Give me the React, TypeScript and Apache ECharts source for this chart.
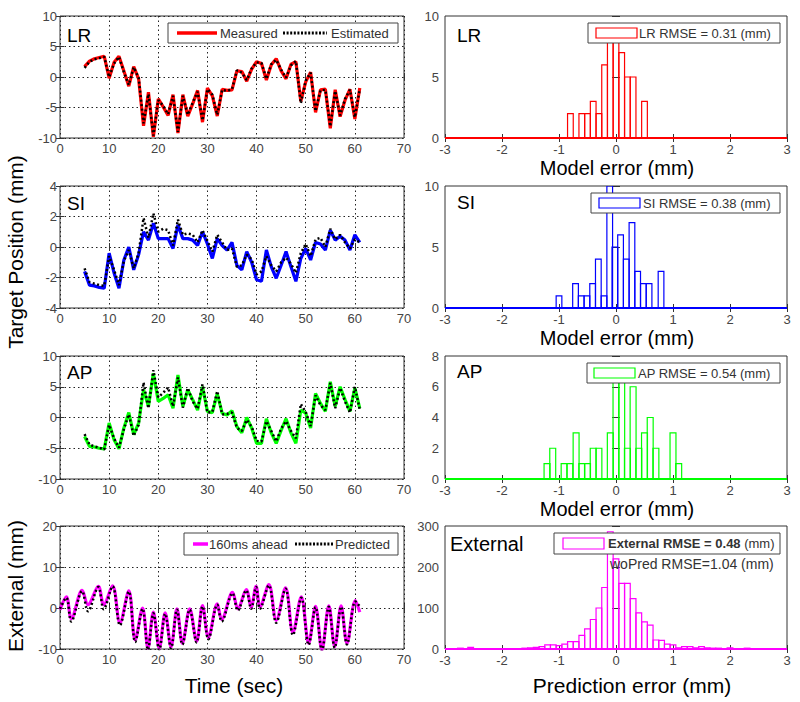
import React, { useEffect, useRef } from "react";
import * as echarts from "echarts";

// ---------- DATA ----------
const timeSec = [5, 6, 7, 8, 9, 10, 11, 12, 13, 14, 15, 16, 17, 18, 19, 20, 21, 22, 23, 24, 25, 26, 27, 28, 29, 30, 31, 32, 33, 34, 35, 36, 37, 38, 39, 40, 41, 42, 43, 44, 45, 46, 47, 48, 49, 50, 51, 52, 53, 54, 55, 56, 57, 58, 59, 60, 61];

const lrMeasured = [1.7, 2.6, 3.0, 3.2, 3.4, -0.2, 2.4, 3.4, 1.0, -1.5, 1.7, -0.3,
  -8.0, -2.5, -9.8, -3.6, -4.9, -6.3, -2.9, -9.2, -2.9, -6.4, -4.4, -2.2,
  -7.4, -1.8, -3.1, -6.4, -2.0, -2.2, -2.1, 1.0, 0.9, -0.7, 1.3, 2.5,
  2.2, -0.5, 2.0, 3.0, 1.0, -0.3, 2.1, 2.5, -4.0, -0.8, 0.8, -5.8,
  -2.1, -2.0, -8.4, -2.1, -6.5, -3.8, -2.0, -6.9, -1.8];
const lrEstimated = [1.5, 2.5, 2.9, 3.1, 3.3, 0.0, 2.2, 3.3, 0.8, -1.3, 1.6, -0.1,
  -7.6, -2.8, -9.6, -3.8, -4.7, -6.1, -3.1, -9.0, -3.1, -6.2, -4.2, -2.4,
  -7.1, -2.0, -2.9, -6.2, -2.1, -2.3, -2.0, 1.1, 0.7, -0.5, 1.4, 2.4,
  2.3, -0.3, 2.1, 2.8, 1.2, -0.1, 1.9, 2.6, -4.3, -0.6, 0.7, -5.6,
  -2.2, -2.1, -8.1, -2.3, -6.3, -3.6, -2.1, -6.6, -2.0];

const siMeasured = [-1.6, -2.5, -2.55, -2.65, -2.7, -0.4, -1.7, -2.7, -0.85, 0.0, -1.5, -0.5,
  1.0, 0.45, 1.55, 0.55, 0.55, 0.55, -0.1, 1.45, 0.55, 0.55, 0.45, 0.1,
  1.0, 0.2, -0.75, 0.55, 0.1, -0.2, 0.3, -1.2, -1.5, -0.3, -1.0, -2.15,
  -2.25, -0.2, -1.3, -2.05, -1.2, -0.3, -1.3, -2.25, -0.75, -0.1, -0.85, 0.3,
  0.2, -0.2, 1.1, 0.45, 0.7, 0.45, -0.2, 0.8, 0.3];
const siEstimated = [-1.4, -2.3, -2.4, -2.5, -2.55, -0.6, -1.5, -2.5, -0.9, -0.2, -1.4, -0.4,
  1.9, 0.6, 2.2, 1.0, 1.2, 1.1, 0.1, 1.8, 0.8, 0.9, 0.8, 0.3,
  1.1, 0.4, -0.3, 0.8, 0.3, -0.2, -0.1, -1.3, -1.2, -0.5, -0.8, -1.8,
  -1.6, -0.6, -1.2, -1.6, -1.0, -0.7, -1.1, -1.7, -0.4, 0.2, -0.6, 0.5,
  0.6, 0.0, 1.2, 0.5, 0.8, 0.3, -0.1, 0.5, 0.3];

const apMeasured = [-3.1, -4.7, -4.8, -5.0, -5.1, -0.9, -3.6, -5.1, -1.7, 0.8, -2.8, -0.9,
  4.5, 1.8, 7.2, 2.6, 3.1, 3.7, 1.5, 6.9, 1.8, 4.5, 2.9, 1.2,
  5.0, 1.0, 0.8, 3.9, 0.7, 0.4, 1.1, -1.5, -2.5, 0.0, -1.7, -4.2,
  -4.2, -0.2, -2.5, -4.2, -2.1, -0.2, -2.5, -4.2, 1.2, 0.7, -1.7, 3.9,
  2.3, 1.0, 5.8, 1.8, 5.0, 2.9, 1.0, 4.8, 1.5];
const apEstimated = [-2.7, -4.4, -4.7, -4.9, -5.2, -1.2, -3.4, -4.9, -1.9, 0.5, -3.0, -1.2,
  5.7, 1.5, 7.7, 3.3, 4.0, 4.9, 1.8, 6.5, 1.6, 4.8, 2.6, 1.4,
  5.4, 0.8, 0.9, 4.3, 0.5, 0.6, 0.8, -1.7, -2.2, -0.4, -1.5, -3.8,
  -3.9, -0.6, -2.2, -3.9, -1.8, -0.6, -2.2, -3.4, 2.2, 0.9, -1.4, 3.6,
  2.0, 1.2, 5.6, 1.5, 4.8, 2.6, 0.8, 5.0, 1.3];

const extTime = [0, 1.3, 2.3, 4.5, 5.7, 7.8, 8.9, 10.7, 12.2, 14.0, 15.3, 16.8, 17.9, 19.0, 20.2,
  21.4, 22.6, 23.8, 24.9, 26.4, 27.8, 29.0, 30.2, 32.0, 32.9, 35.1, 36.2, 37.9, 38.9, 39.9,
  40.7, 42.5, 44.0, 45.9, 47.4, 49.1, 50.6, 52.0, 53.3, 54.7, 55.9, 57.2, 58.4, 60.1, 61.0];
const extAhead = [-0.4, 2.7, -2.6, 4.3, 0.8, 5.3, 0.8, 5.4, -3.6, 4.2, -7.8, 0.0, -9.8, -1.0, -9.8,
  -1.2, -9.5, -0.2, -8.6, -0.2, -8.1, 0.6, -7.2, 1.0, -2.8, 3.8, -0.2, 4.5, 0.2, 5.3,
  0.3, 5.7, -3.0, 4.9, -6.0, 2.7, -8.6, 0.4, -10.2, 0.5, -9.4, 0.5, -8.6, 1.8, -1.0];
const extPredicted = [-0.2, 2.5, -3.3, 4.1, -0.8, 5.1, -0.3, 5.3, -4.2, 4.0, -8.3, -0.2, -10.2, -1.3, -10.2,
  -1.4, -9.8, -0.4, -8.9, -0.4, -8.4, 0.4, -7.6, 0.8, -3.3, 3.6, -0.6, 4.3, -0.2, 5.1,
  -0.2, 5.5, -3.6, 4.7, -6.6, 2.5, -9.0, 0.2, -10.4, 0.3, -9.7, 0.3, -8.9, 1.6, 0.4];

// histogram bins: [bin centre (mm), count]
const lrBins = [[-0.8, 2], [-0.6, 2], [-0.5, 2], [-0.4, 3], [-0.3, 2], [-0.2, 6], [-0.1, 8], [0.0, 8], [0.1, 7], [0.2, 5], [0.3, 5], [0.5, 3]];
const siBins = [[-1.0, 1], [-0.71, 2], [-0.61, 1], [-0.51, 1], [-0.41, 2], [-0.31, 4], [-0.21, 1], [-0.11, 10], [-0.02, 5], [0.08, 6], [0.18, 4], [0.28, 7], [0.38, 3], [0.48, 2], [0.58, 2], [0.79, 3]];
const apBins = [[-1.21, 1], [-1.11, 2], [-0.91, 1], [-0.81, 1], [-0.70, 3], [-0.60, 1], [-0.50, 1], [-0.40, 2], [-0.30, 2], [-0.10, 3], [0.0, 7], [0.10, 7], [0.20, 2], [0.30, 6], [0.40, 2], [0.50, 3], [0.60, 4], [0.70, 2], [1.0, 3], [1.1, 1]];
const extBins = [[-2.73, 2], [-2.55, 4], [-2.45, 1], [-2.35, 1], [-2.25, 1], [-2.15, 1], [-2.05, 1], [-1.95, 1], [-1.85, 1], [-1.75, 1],
  [-1.6, 2], [-1.5, 3], [-1.4, 4], [-1.3, 6], [-1.2, 10], [-1.1, 10], [-1.0, 8], [-0.9, 12], [-0.8, 18], [-0.7, 18],
  [-0.6, 33], [-0.5, 49], [-0.4, 72], [-0.3, 100], [-0.2, 150], [-0.1, 286], [0.0, 220], [0.1, 160], [0.2, 160], [0.3, 123],
  [0.4, 88], [0.5, 66], [0.6, 58], [0.7, 22], [0.8, 21], [0.9, 12], [1.0, 10], [1.1, 3], [1.2, 6], [1.3, 6],
  [1.4, 3], [1.5, 6], [1.6, 3], [1.7, 2], [1.8, 2], [2.0, 3], [2.3, 2]];
const binWidths = [0.1, 0.1, 0.104, 0.1];

// axis ranges [min, max, interval]
const timeAxis = [0, 70, 10];
const errorAxis = [-3, 3, 1];
const lrAxis = [-10, 10, 5];
const siAxis = [-4, 4, 2];
const apAxis = [-10, 10, 5];
const extAxis = [-10, 20, 10];
const lrCountAxis = [0, 10, 5];
const siCountAxis = [0, 10, 5];
const apCountAxis = [0, 8, 2];
const extCountAxis = [0, 300, 100];

const legendLR = ["Measured", "Estimated"];
const legendExt = ["160ms ahead", "Predicted"];
const histLegends = ["LR RMSE = 0.31 (mm)", "SI RMSE = 0.38 (mm)", "AP RMSE = 0.54 (mm)", "External RMSE = 0.48"];
const woPredText = "woPred RMSE=1.04 (mm)";

// ---------- STYLE ----------
const FONT = '"Liberation Sans", Arial, Helvetica, sans-serif';
const AXIS_COLOR = "#333";
const LABEL_COLOR = "#444";
const RED = "#ff0000";
const BLUE = "#0000ff";
const GREEN = "#00ff00";
const MAGENTA = "#ff00ff";

type PanelDef = { left: number; top: number; width: number; height: number; x: number[]; y: number[]; grid: boolean };

const panels: PanelDef[] = [
  { left: 60, top: 16, width: 344, height: 122, x: timeAxis, y: lrAxis, grid: true },
  { left: 445, top: 16, width: 342, height: 122, x: errorAxis, y: lrCountAxis, grid: false },
  { left: 60, top: 186, width: 344, height: 122, x: timeAxis, y: siAxis, grid: true },
  { left: 445, top: 186, width: 342, height: 122, x: errorAxis, y: siCountAxis, grid: false },
  { left: 60, top: 356, width: 344, height: 123, x: timeAxis, y: apAxis, grid: true },
  { left: 445, top: 356, width: 342, height: 123, x: errorAxis, y: apCountAxis, grid: false },
  { left: 60, top: 526, width: 344, height: 123, x: timeAxis, y: extAxis, grid: true },
  { left: 445, top: 526, width: 342, height: 123, x: errorAxis, y: extCountAxis, grid: false },
];

function zip(xs: number[], ys: number[]) {
  return xs.map((x, i) => [x, ys[i]]);
}

function buildOption() {
  const grid = panels.map((p) => ({
    left: p.left, top: p.top, width: p.width, height: p.height,
    show: true, borderColor: AXIS_COLOR, borderWidth: 1, backgroundColor: "#fff",
  }));
  const xAxis: any[] = [];
  const yAxis: any[] = [];
  panels.forEach((p, i) => {
    const tick = { show: true, inside: true, length: 4, lineStyle: { color: AXIS_COLOR, width: 1 } };
    const split = { show: p.grid, lineStyle: { color: "#222", width: 1, type: [1.5, 3] } };
    const base = { gridIndex: i, type: "value", axisLine: { show: false } };
    xAxis.push({ ...base, position: "bottom", min: p.x[0], max: p.x[1], interval: p.x[2], axisTick: tick,
      axisLabel: { color: LABEL_COLOR, fontSize: 13, fontFamily: FONT, margin: p.grid ? 4 : 5 }, splitLine: split });
    xAxis.push({ ...base, position: "top", min: p.x[0], max: p.x[1], interval: p.x[2], axisTick: tick,
      axisLabel: { show: false }, splitLine: { show: false } });
    yAxis.push({ ...base, position: "left", min: p.y[0], max: p.y[1], interval: p.y[2], axisTick: tick,
      axisLabel: { color: LABEL_COLOR, fontSize: 13, fontFamily: FONT, margin: p.grid ? 3 : 6 }, splitLine: split });
    yAxis.push({ ...base, position: "right", min: p.y[0], max: p.y[1], interval: p.y[2], axisTick: tick,
      axisLabel: { show: false }, splitLine: { show: false } });
  });

  const lineSeries = (gi: number, name: string, data: number[][], color: string, dotted: boolean, smooth = false) => ({
    type: "line", name, xAxisIndex: gi * 2, yAxisIndex: gi * 2, data, symbol: "none", showSymbol: false,
    smooth: smooth ? 0.35 : false, clip: true, z: dotted ? 4 : 3,
    lineStyle: dotted ? { color: "#000", width: 2.5, type: [2, 2.5] } : { color, width: 3.2 },
  });

  const histSeries = (gi: number, bins: number[][], color: string, w: number) => ({
    type: "custom", xAxisIndex: gi * 2, yAxisIndex: gi * 2, data: bins, clip: true, z: 3,
    renderItem: (_params: any, api: any) => {
      const c = api.value(0);
      const n = api.value(1);
      const p0 = api.coord([c - w / 2, n]);
      const p1 = api.coord([c + w / 2, 0]);
      return {
        type: "rect",
        shape: { x: p0[0], y: p0[1], width: p1[0] - p0[0], height: p1[1] - p0[1] },
        style: { fill: "none", stroke: color, lineWidth: 1.2 },
      };
    },
  });

  const baseline = (gi: number, color: string) => ({
    type: "line", xAxisIndex: gi * 2, yAxisIndex: gi * 2, data: [[errorAxis[0], 0], [errorAxis[1], 0]],
    symbol: "none", lineStyle: { color, width: 2 }, z: 5,
  });

  const series = [
    lineSeries(0, legendLR[0], zip(timeSec, lrMeasured), RED, false),
    lineSeries(0, legendLR[1], zip(timeSec, lrEstimated), RED, true),
    histSeries(1, lrBins, RED, binWidths[0]), baseline(1, RED),
    lineSeries(2, "SI measured", zip(timeSec, siMeasured), BLUE, false),
    lineSeries(2, "SI estimated", zip(timeSec, siEstimated), BLUE, true),
    histSeries(3, siBins, BLUE, binWidths[1]), baseline(3, BLUE),
    lineSeries(4, "AP measured", zip(timeSec, apMeasured), GREEN, false),
    lineSeries(4, "AP estimated", zip(timeSec, apEstimated), GREEN, true),
    histSeries(5, apBins, GREEN, binWidths[2]), baseline(5, GREEN),
    lineSeries(6, legendExt[0], zip(extTime, extAhead), MAGENTA, false, true),
    lineSeries(6, legendExt[1], zip(extTime, extPredicted), MAGENTA, true, true),
    histSeries(7, extBins, MAGENTA, binWidths[3]), baseline(7, MAGENTA),
  ];

  const txt = (x: number, y: number, text: string, size: number, extra: any = {}) => ({
    type: "text", x, y, z: 100,
    style: { text, fontSize: size, fontFamily: FONT, fill: "#000", textAlign: "left", textVerticalAlign: "middle", ...extra },
  });

  const lineLegend = (x0: number, y0: number, w: number, h: number, c: string, l1: number[], t1x: number, names: string[], l2: number[], t2x: number) => ({
    type: "group", z: 100,
    children: [
      { type: "rect", z: 100, shape: { x: x0, y: y0, width: w, height: h }, style: { fill: "#fff", stroke: "#444", lineWidth: 1 } },
      { type: "line", z: 101, shape: { x1: l1[0], y1: y0 + h / 2, x2: l1[1], y2: y0 + h / 2 }, style: { stroke: c, lineWidth: 3.5 } },
      { type: "text", z: 101, x: t1x, y: y0 + h / 2, style: { text: names[0], fontSize: 13, fontFamily: FONT, fill: "#333", textVerticalAlign: "middle" } },
      { type: "line", z: 101, shape: { x1: l2[0], y1: y0 + h / 2, x2: l2[1], y2: y0 + h / 2 }, style: { stroke: "#000", lineWidth: 3, lineDash: [2, 1.6] } },
      { type: "text", z: 101, x: t2x, y: y0 + h / 2, style: { text: names[1], fontSize: 13, fontFamily: FONT, fill: "#333", textVerticalAlign: "middle" } },
    ],
  });

  const histLegend = (x0: number, y0: number, w: number, h: number, c: string, sx: number, tx: number, text: string, rich = false) => ({
    type: "group", z: 100,
    children: [
      { type: "rect", z: 100, shape: { x: x0, y: y0, width: w, height: h }, style: { fill: "#fff", stroke: "#444", lineWidth: 1 } },
      { type: "rect", z: 101, shape: { x: sx, y: y0 + 5, width: 41, height: h - 10 }, style: { fill: "#fff", stroke: c, lineWidth: 1.2 } },
      rich
        ? { type: "text", z: 101, x: tx, y: y0 + h / 2, style: { text: `{b|${text}}{n| (mm)}`, fill: "#333", textVerticalAlign: "middle",
            rich: { b: { fontSize: 13, fontFamily: FONT, fontWeight: "bold", fill: "#333" }, n: { fontSize: 13, fontFamily: FONT, fill: "#333" } } } }
        : { type: "text", z: 101, x: tx, y: y0 + h / 2, style: { text, fontSize: 13, fontFamily: FONT, fill: "#333", textVerticalAlign: "middle" } },
    ],
  });

  const graphic = [
    // panel labels
    txt(67, 35, "LR", 19), txt(457, 35, "LR", 19),
    txt(67, 203, "SI", 19), txt(457, 202, "SI", 19),
    txt(67, 372, "AP", 19), txt(457, 371, "AP", 19),
    txt(450, 544, "External", 20),
    // axis titles
    txt(617, 168, "Model error (mm)", 20, { textAlign: "center" }),
    txt(617, 338, "Model error (mm)", 20, { textAlign: "center" }),
    txt(617, 509, "Model error (mm)", 20, { textAlign: "center" }),
    txt(632, 685, "Prediction error (mm)", 21, { textAlign: "center" }),
    txt(234, 685, "Time (sec)", 21, { textAlign: "center" }),
    { type: "text", x: 15, y: 252, rotation: Math.PI / 2, z: 100,
      style: { text: "Target Position (mm)", fontSize: 21, fontFamily: FONT, fill: "#000", textAlign: "center", textVerticalAlign: "middle" } },
    { type: "text", x: 15, y: 586, rotation: Math.PI / 2, z: 100,
      style: { text: "External (mm)", fontSize: 21, fontFamily: FONT, fill: "#000", textAlign: "center", textVerticalAlign: "middle" } },
    // legends
    lineLegend(168, 23, 230, 20, RED, [177, 217], 220, legendLR, [283, 327], 331),
    lineLegend(184, 533, 214, 22, MAGENTA, [193, 208], 209, legendExt, [295, 333], 335),
    histLegend(588, 23, 192, 20, RED, 596, 639, histLegends[0]),
    histLegend(591, 193, 189, 20, BLUE, 599, 643, histLegends[1]),
    histLegend(587, 363, 193, 20, GREEN, 594, 638, histLegends[2]),
    histLegend(554, 533, 226, 21, MAGENTA, 563, 608, histLegends[3], true),
    txt(610, 564, woPredText, 14, { fill: "#333" }),
  ];

  return { animation: false, backgroundColor: "#fff", grid, xAxis, yAxis, series, graphic };
}

export default function App() {
  const ref = useRef<HTMLDivElement>(null);
  useEffect(() => {
    document.body.style.margin = "0";
    const chart = echarts.init(ref.current!, null, { renderer: "svg" });
    chart.setOption(buildOption() as any);
    return () => chart.dispose();
  }, []);
  return <div ref={ref} style={{ width: 800, height: 702 }} />;
}
